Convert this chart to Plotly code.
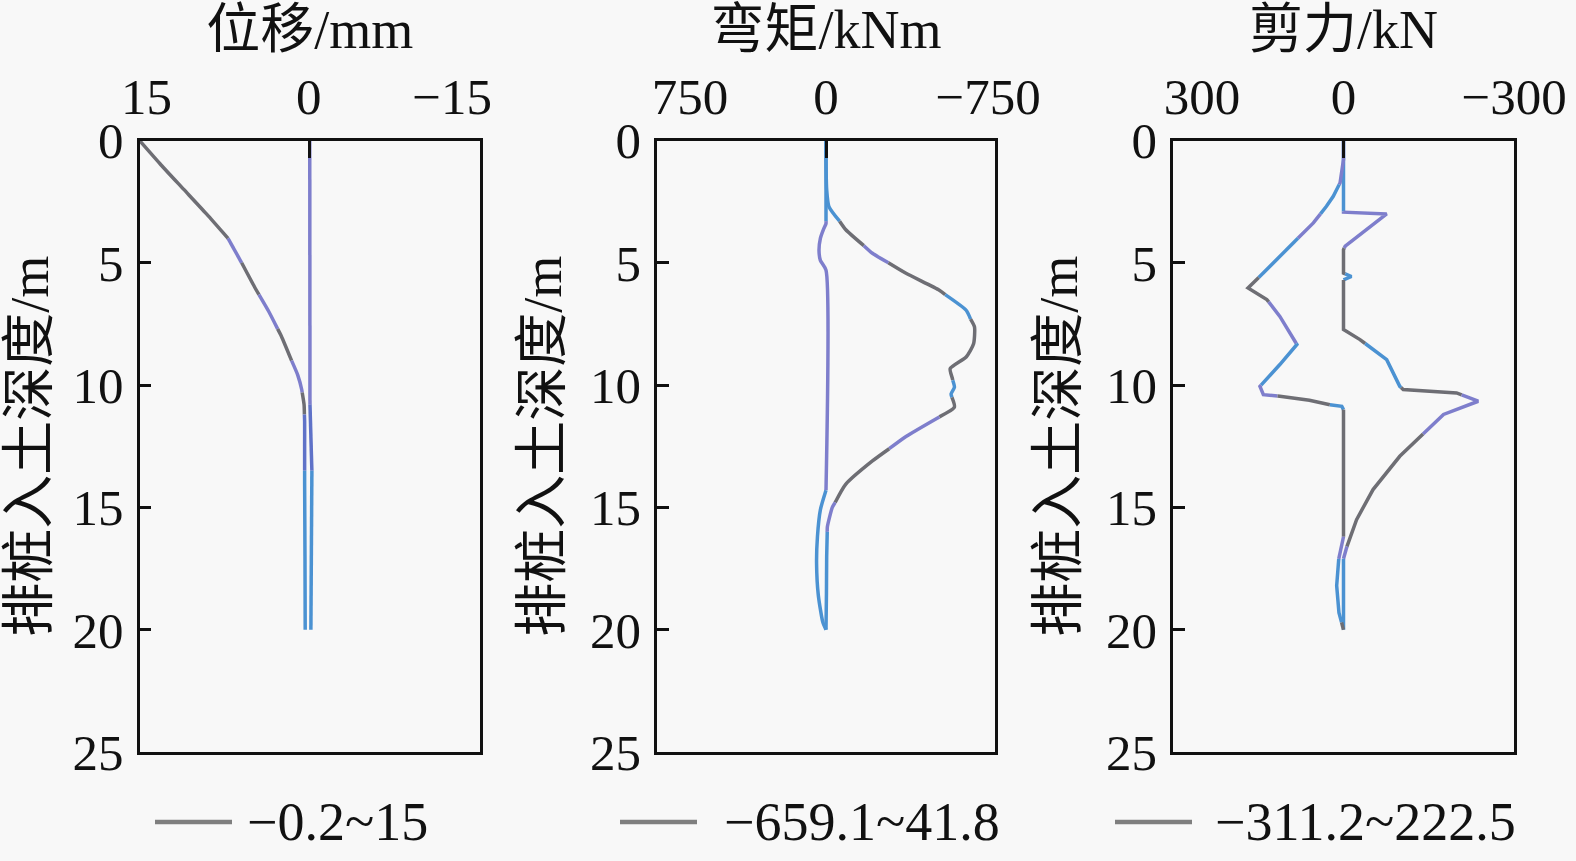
import numpy as np
import plotly.graph_objects as go

# ---------------- data ----------------
# Panel 1: displacement (mm) vs depth (m)
disp_max_depth = [0, 1.0, 2.0, 3.0, 4.0, 5.0, 6.0, 7.0, 8.0, 9.0, 9.6, 10.2, 10.8, 11.5, 12.5, 14.0, 17.0, 20.0]
disp_max = [15, 13.1, 11.1, 9.1, 7.2, 6.0, 4.85, 3.6, 2.5, 1.6, 1.05, 0.7, 0.5, 0.45, 0.45, 0.45, 0.42, 0.4]
disp_min_depth = [0, 10.5, 12.0, 13.0, 15.0, 20.0]
disp_min = [0, 0, -0.1, -0.2, -0.15, -0.1]

# Panel 2: bending moment (kNm) vs depth (m)
mom_min_depth = [0, 0.8, 2.0, 2.7, 3.65, 4.61, 5.43, 6.12, 6.94, 7.62, 8.31, 8.85, 9.33,
                 9.7, 10.09, 10.36, 10.9, 11.3, 12.1, 13.1, 14.05, 15.0, 15.8, 17.0, 18.5, 20.0]
mom_min = [0, 0, -3, -13, -88, -206, -355, -503, -622, -659, -655, -622, -551,
           -560, -570, -555, -570, -503, -355, -206, -88, -28, -6, -3, -2, 0]
mom_max_depth = [0, 3.4, 3.65, 4.0, 4.5, 4.9, 5.3, 14.3, 15.1, 16.2, 17.3, 18.6, 19.7, 20.0]
mom_max = [0, 0, 12, 25, 31, 25, 0, 0, 25, 38, 41.8, 34, 14, 0]

# Panel 3: shear force (kN) vs depth (m)
shear_max_depth = [0, 0.78, 1.73, 2.28, 2.69, 3.37, 4.18, 5.14, 6.03, 6.5, 7.19, 8.34, 9.16,
                   10.05, 10.39, 10.46, 10.62, 10.8, 10.87, 11.0, 16.2, 17.0, 18.2, 19.3, 20.0]
shear_max = [0, 0, 6, 18, 30, 53, 88, 129, 168, 135, 112, 82, 112,
             147, 141, 112, 60, 24, 3, 0, 0, 8, 12, 8, 0]
shear_min_depth = [0, 0.78, 2.93, 3.0, 4.32, 4.46, 5.42, 5.56, 5.7, 7.73, 8.14, 8.96, 10.05,
                   10.18, 10.32, 10.66, 11.2, 12.91, 14.27, 15.5, 16.6, 17.1, 20.0]
shear_min = [0, 0, 0, -76, -3, 0, 0, -14, 0, 0, -29, -76, -99,
             -105, -199, -237, -176, -99, -52, -23, -6, 0, 0]

axis_titles = ["位移/mm", "弯矩/kNm", "剪力/kN"]
y_title = "排桩入土深度/m"
x_limits = [15, 750, 300]
y_ticks = [0, 5, 10, 15, 20, 25]
legend_labels = ["\u22120.2~15", "\u2212659.1~41.8", "\u2212311.2~222.5"]

# ---------------- style ----------------
GRAY = "#6e6e74"
PURPLE = "#7e7ecc"
BLUE = "#4b92d2"
FONT = "Liberation Serif, Noto Sans CJK SC, serif"
FS_TICK = 51
FS_TITLE = 54
FS_LEG = 54

color_bands = {
    "disp_max": [(0, 4, GRAY), (4, 5, PURPLE), (5, 6.3, GRAY), (6.3, 7.7, PURPLE), (7.7, 9, GRAY),
                 (9, 10.3, PURPLE), (10.3, 11.2, GRAY), (11.2, 13.5, "#5f72c8"), (13.5, 20, BLUE)],
    "disp_min": [(0, 10.8, PURPLE), (10.8, 13.5, "#5f72c8"), (13.5, 20, BLUE)],
    "mom_min": [(0, 3.3, BLUE), (3.3, 4.3, GRAY), (4.3, 5.0, PURPLE), (5.0, 6.3, GRAY), (6.3, 7.3, BLUE),
                (7.3, 9.8, GRAY), (9.8, 10.5, BLUE), (10.5, 11.3, GRAY), (11.3, 12.6, PURPLE),
                (12.6, 14.8, GRAY), (14.8, 16, PURPLE), (16, 20, BLUE)],
    "mom_max": [(0, 3.3, BLUE), (3.3, 14.3, PURPLE), (14.3, 20, BLUE)],
    "shear_max": [(0, 1.8, PURPLE), (1.8, 3.0, BLUE), (3.0, 4.0, PURPLE), (4.0, 5.6, BLUE), (5.6, 6.6, GRAY),
                  (6.6, 8.3, PURPLE), (8.3, 10.0, BLUE), (10.0, 10.45, PURPLE), (10.45, 10.8, GRAY),
                  (10.8, 11.0, BLUE), (11.0, 16.2, GRAY), (16.2, 17.1, PURPLE), (17.1, 19.7, BLUE), (19.7, 20, GRAY)],
    "shear_min": [(0, 2.9, BLUE), (2.9, 4.4, PURPLE), (4.4, 5.45, GRAY), (5.45, 5.7, BLUE), (5.7, 8.3, GRAY),
                  (8.3, 10.1, BLUE), (10.1, 10.4, GRAY), (10.4, 12.0, PURPLE), (12.0, 16.6, GRAY),
                  (16.6, 17.1, PURPLE), (17.1, 20, BLUE)],
}

fig = go.Figure()


def add_line(x, d, bands, xa, ya, shape="linear"):
    x = np.asarray(x, float)
    d = np.asarray(d, float)
    for d0, d1, col in bands:
        inside = (d > d0) & (d < d1)
        xs = [np.interp(d0, d, x)] + list(x[inside]) + [np.interp(d1, d, x)]
        ds = [d0] + list(d[inside]) + [d1]
        fig.add_trace(go.Scatter(x=xs, y=ds, mode="lines",
                                 line=dict(color=col, width=3.5, shape=shape, smoothing=0.6),
                                 xaxis=xa, yaxis=ya, showlegend=False, hoverinfo="skip"))


add_line(disp_min, disp_min_depth, color_bands["disp_min"], "x", "y")
add_line(disp_max, disp_max_depth, color_bands["disp_max"], "x", "y", "spline")
add_line(mom_max, mom_max_depth, color_bands["mom_max"], "x2", "y2", "spline")
add_line(mom_min, mom_min_depth, color_bands["mom_min"], "x2", "y2", "spline")
add_line(shear_min, shear_min_depth, color_bands["shear_min"], "x3", "y3")
add_line(shear_max, shear_max_depth, color_bands["shear_max"], "x3", "y3")

W, H = 1576, 861
x_px = [(139.5, 480), (657, 995), (1173, 1514)]
y_top, y_bot = 140.5, 752
leg_px = [(155, 232, 245), (620, 697, 722), (1115, 1192, 1213)]
leg_y = 822
# horizontal pixel shifts of the top tick labels (left, centre, right), as in the reference
label_shift_px = [(7, -1, -28), (33, 0, -7), (29, 0, 0)]

layout = dict(width=W, height=H, margin=dict(l=0, r=0, t=0, b=0, autoexpand=False),
              paper_bgcolor="#f8f8f8", plot_bgcolor="#f8f8f8",
              font=dict(family=FONT, size=FS_TICK, color="#111111"), showlegend=False)

for i in range(3):
    sx = "" if i == 0 else str(i + 1)
    lx = str(i + 4)
    lim = x_limits[i]
    dom = [x_px[i][0] / W, x_px[i][1] / W]
    units_per_px = 2 * lim / (x_px[i][1] - x_px[i][0])
    base_vals = [lim, 0, -lim]
    label_vals = [v - s * units_per_px for v, s in zip(base_vals, label_shift_px[i])]
    layout["xaxis" + sx] = dict(
        domain=dom, anchor="y" + sx, side="top",
        range=[lim, -lim], tickvals=base_vals, showticklabels=False,
        ticks="inside", ticklen=18, tickwidth=2.5, tickcolor="#111",
        showline=True, linewidth=2.5, linecolor="#111", mirror=True,
        showgrid=False, zeroline=False, automargin=False,
        title=dict(text=axis_titles[i], font=dict(family=FONT, size=FS_TITLE), standoff=76))
    layout["xaxis" + lx] = dict(
        domain=dom, anchor="y" + sx, overlaying="x" + sx, side="top",
        range=[lim, -lim], tickvals=label_vals,
        ticktext=[str(lim), "0", "\u2212" + str(lim)], ticks="",
        showline=False, showgrid=False, zeroline=False, automargin=False,
        ticklabelstandoff=15, tickfont=dict(family=FONT, size=FS_TICK))
    layout["yaxis" + sx] = dict(
        domain=[1 - y_bot / H, 1 - y_top / H], anchor="x" + sx,
        range=[25, 0], tickvals=y_ticks,
        ticks="inside", ticklen=12, tickwidth=2.5, tickcolor="#111",
        showline=True, linewidth=2.5, linecolor="#111", mirror=True,
        showgrid=False, zeroline=False, ticklabelstandoff=3, automargin=False,
        tickfont=dict(family=FONT, size=FS_TICK),
        title=dict(text=y_title, font=dict(family=FONT, size=FS_TITLE), standoff=12))
    # invisible trace to activate the label axis
    fig.add_trace(go.Scatter(x=[0], y=[0], mode="markers", marker=dict(opacity=0),
                             xaxis="x" + lx, yaxis="y" + sx, showlegend=False, hoverinfo="skip"))

shapes = []
annotations = []
for i in range(3):
    x0, x1, xt = leg_px[i]
    shapes.append(dict(type="line", xref="paper", yref="paper", x0=x0 / W, x1=x1 / W,
                       y0=1 - leg_y / H, y1=1 - leg_y / H, line=dict(color="#7f7f7f", width=4.5)))
    annotations.append(dict(xref="paper", yref="paper", x=xt / W, y=1 - leg_y / H,
                            xanchor="left", yanchor="middle", showarrow=False,
                            text=legend_labels[i], font=dict(family=FONT, size=FS_LEG)))
layout["shapes"] = shapes
layout["annotations"] = annotations

fig.update_layout(**layout)
fig.write_html("out.html", config={"responsive": False, "displayModeBar": False},
               post_script="document.body.style.margin='0';document.body.style.background='#f8f8f8';")
